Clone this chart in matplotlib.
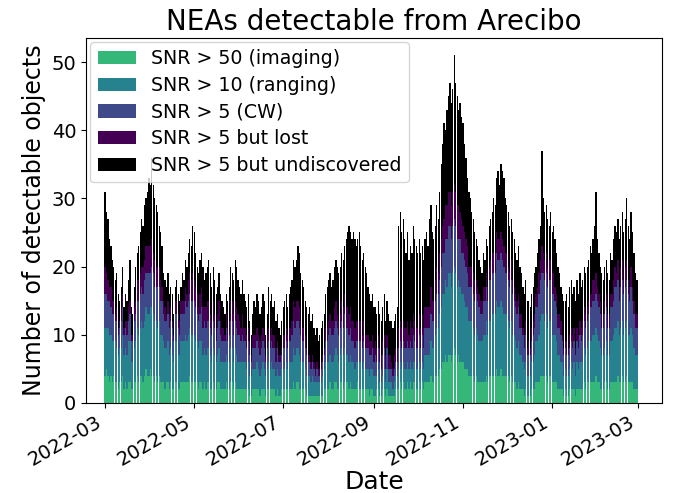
import numpy as np
import pandas as pd
import matplotlib
matplotlib.use("Agg")
import matplotlib.pyplot as plt
import matplotlib.dates as mdates

# daily counts, 2022-03-01 .. 2023-02-28
dates = pd.date_range("2022-03-01", periods=365, freq="D")

imaging = [
    4,5,4,3,4, 3,4,3,3,2, 3,3,4,2,3, 2,3,3,2,2, 3,3,4,3,4, 4,3,4,5,4,
    4,5,4,4,3, 4,3,4,3,3, 3,2,3,3,2, 3,2,2,3,3, 2,2,3,3,3, 3,3,3,4,3,
    3,3,3,3,2, 3,3,2,3,2, 3,3,2,2,3, 2,2,3,3,2, 2,2,2,3,2, 2,3,3,2,3,
    2,2,2,2,2, 2,2,2,2,1, 1,2,2,2,2, 2,1,2,2,2, 1,2,2,2,2, 2,2,1,2,1,
    1,2,2,2,2, 2,2,2,2,3, 2,3,3,2,2, 2,2,2,1,1, 1,1,1,1,1, 1,1,1,1,1,
    2,2,2,2,3, 2,2,3,3,2, 2,3,3,2,3, 3,3,2,3,2, 2,2,2,3,2, 2,2,2,2,2,
    2,1,2,2,1, 1,2,2,1,1, 2,2,1,2,1, 1,1,1,1,2, 2,2,3,2,3, 2,2,3,2,3,
    2,3,3,2,2, 3,2,3,2,3, 3,3,3,4,3, 3,4,4,4,5, 5,6,6,7,6, 7,7,6,7,8,
    7,6,7,6,6, 6,5,5,5,4, 4,4,4,3,4, 3,3,3,3,3, 3,4,3,4,4, 4,4,4,5,4,
    4,5,4,4,4, 4,4,3,4,3, 3,3,2,3,2, 2,2,1,2,1, 1,1,2,2,2, 3,3,3,4,4,
    4,4,4,3,4, 4,3,3,3,3, 2,2,2,2,1, 2,1,1,2,2, 2,2,1,2,2, 2,2,2,3,2,
    3,3,3,3,3, 3,4,3,3,2, 2,2,3,3,2, 2,3,3,3,3, 3,4,3,3,4, 3,3,4,3,3,
    3,3,2,2,2,
]
ranging = [
    7,6,7,7,6, 6,5,6,5,5, 5,5,6,5,5, 5,6,6,4,4, 5,6,7,7,7, 8,8,8,9,9,
    9,9,10,9,9, 8,8,8,7,7, 6,6,5,6,5, 5,5,4,6,6, 5,5,6,6,6, 7,6,7,7,7,
    7,7,6,6,6, 6,6,5,5,5, 5,5,5,4,5, 5,4,4,5,4, 4,4,4,4,4, 4,5,5,4,5,
    5,4,4,4,4, 4,4,3,4,3, 3,3,3,3,4, 3,3,3,4,3, 3,3,4,3,4, 3,3,3,3,3,
    3,3,3,3,4, 3,4,4,4,5, 5,5,5,5,4, 4,4,3,3,3, 3,2,3,2,2, 2,2,2,2,3,
    3,4,4,4,4, 4,4,4,5,5, 4,4,5,5,5, 4,4,4,4,4, 4,3,4,3,4, 4,3,4,3,3,
    3,3,3,3,3, 3,2,3,2,2, 2,3,2,3,2, 2,2,1,2,2, 2,3,3,3,3, 3,3,3,3,3,
    3,3,3,3,3, 3,3,3,3,4, 4,4,4,5,5, 5,6,7,7,8, 9,10,10,11,11, 12,12,11,12,12,
    12,11,11,11,10, 10,10,9,9,8, 8,8,7,7,7, 7,6,6,6,7, 7,8,7,8,8, 9,9,9,10,10,
    10,10,10,9,9, 9,8,8,8,7, 7,6,6,6,5, 5,4,4,4,3, 3,3,4,4,5, 6,6,7,8,9,
    9,8,9,8,8, 8,7,7,7,6, 5,5,4,4,3, 3,3,3,3,4, 3,4,3,4,3, 4,4,4,5,5,
    5,6,6,6,7, 7,7,7,6,6, 5,5,5,6,5, 5,6,6,7,8, 8,8,7,8,8, 7,8,8,7,7,
    8,7,6,5,5,
]
cw = [
    5,5,4,5,4, 4,4,3,4,3, 3,4,4,3,3, 3,3,4,3,3, 4,4,4,5,5, 5,5,6,5,6,
    6,5,6,6,5, 5,6,5,5,5, 4,4,4,4,4, 4,4,3,4,4, 4,3,4,4,4, 5,5,5,5,5,
    5,5,5,4,4, 4,5,4,4,4, 4,4,4,4,4, 4,3,4,4,4, 3,3,3,4,3, 4,4,4,4,4,
    4,4,4,3,4, 3,3,3,3,3, 2,3,3,3,3, 3,3,3,3,3, 2,3,3,3,3, 3,3,2,3,2,
    2,2,3,3,3, 3,3,3,4,4, 4,4,4,4,4, 3,3,3,3,2, 2,2,2,2,1, 2,1,1,2,2,
    2,3,3,4,4, 4,4,4,4,4, 4,4,4,4,5, 4,4,4,4,3, 3,3,3,3,3, 3,3,3,3,3,
    3,3,2,3,2, 3,2,3,3,2, 3,3,2,3,2, 2,2,2,2,2, 2,3,3,3,3, 3,3,3,3,3,
    3,4,3,3,3, 4,3,4,3,4, 4,4,4,4,4, 4,5,5,5,5, 6,6,6,6,7, 7,7,7,7,7,
    7,7,6,7,6, 6,6,6,5,5, 5,5,5,5,5, 5,5,4,4,5, 5,5,5,6,6, 6,6,6,7,7,
    7,7,7,7,6, 6,6,6,6,6, 5,5,5,5,4, 4,4,3,4,3, 3,3,3,4,4, 5,5,6,6,6,
    6,6,6,6,6, 6,6,6,5,5, 4,4,4,3,3, 3,3,3,3,3, 3,3,3,3,3, 4,3,4,4,4,
    4,4,5,5,5, 5,5,5,5,5, 4,4,5,5,4, 4,5,5,5,6, 6,6,5,6,6, 6,6,6,6,5,
    6,5,5,4,4,
]
lost = [
    4,3,3,2,3, 2,2,1,2,1, 1,2,2,1,1, 2,2,2,1,1, 2,2,3,3,3, 3,4,3,4,4,
    4,4,4,3,4, 3,3,3,3,2, 2,2,1,2,2, 2,1,1,2,2, 2,2,2,2,2, 2,2,3,3,3,
    4,3,3,3,2, 3,3,3,2,3, 3,3,2,2,3, 2,2,2,3,2, 2,2,1,2,2, 2,3,3,3,3,
    3,3,2,2,3, 2,2,2,2,2, 1,2,2,2,2, 2,2,2,2,2, 1,2,2,2,2, 2,2,2,1,1,
    1,1,2,2,2, 2,2,2,2,3, 3,3,3,3,2, 2,2,2,1,1, 1,1,1,1,1, 1,1,1,1,1,
    1,2,2,2,2, 2,2,3,3,2, 2,2,3,3,3, 3,3,3,3,3, 3,3,3,3,3, 3,2,3,2,2,
    2,2,2,2,2, 2,2,2,2,2, 2,2,2,2,2, 2,1,1,2,2, 2,3,3,3,3, 3,3,3,2,3,
    3,3,3,3,3, 3,3,3,3,3, 3,3,3,4,3, 3,3,4,3,4, 4,4,5,5,5, 5,5,5,5,5,
    5,5,5,4,5, 4,4,4,4,3, 3,3,3,3,2, 2,2,2,2,2, 2,2,2,2,3, 3,3,3,3,3,
    3,3,3,3,3, 3,2,2,3,2, 2,2,2,2,2, 2,1,2,2,1, 2,1,2,2,2, 2,3,3,3,4,
    3,3,3,3,3, 3,3,3,2,2, 2,2,2,1,1, 1,2,1,2,2, 2,2,1,2,2, 2,2,2,2,2,
    2,2,2,2,3, 3,3,2,2,2, 2,2,2,2,2, 2,2,2,3,3, 2,3,2,3,3, 2,3,3,2,2,
    3,2,2,2,2,
]
undiscovered = [
    11,9,9,7,6, 6,5,5,5,5, 3,3,4,3,4, 3,4,6,4,3, 3,5,4,5,6, 7,6,8,7,8,
    10,9,12,10,9, 9,8,6,7,6, 4,4,4,4,3, 3,4,3,2,3, 3,3,2,4,3, 4,4,4,5,5,
    7,7,5,4,5, 5,5,6,4,5, 5,6,6,5,5, 5,5,4,4,4, 4,3,3,3,4, 5,5,4,5,6,
    6,5,5,5,5, 5,4,4,5,3, 3,3,5,4,5, 5,4,4,5,5, 3,3,6,5,5, 4,5,4,4,4,
    3,4,4,5,5, 4,5,6,6,6, 6,6,8,8,7, 7,6,5,6,6, 7,6,6,5,5, 5,4,5,5,5,
    5,5,6,6,6, 5,6,6,6,7, 7,7,7,7,7, 10,11,13,11,12, 13,13,11,12,13, 11,11,10,10,9,
    7,7,6,6,6, 5,5,5,5,5, 5,6,5,5,6, 5,6,6,5,5, 6,15,16,14,15, 13,11,13,11,11,
    11,13,12,12,11, 11,11,10,10,10, 11,9,13,12,10, 9,8,9,8,9, 11,12,14,11,14, 14,16,15,15,19,
    16,16,14,16,15, 15,13,12,10,11, 10,8,8,7,6, 6,5,5,4,5, 4,5,6,6,6, 6,8,7,8,10,
    8,10,10,10,8, 7,8,7,6,7, 7,6,6,7,7, 6,6,6,6,7, 6,6,5,5,6, 4,5,5,5,14,
    8,7,7,7,5, 7,6,7,7,6, 7,6,5,6,7, 6,7,6,7,7, 6,6,7,7,6, 7,6,6,6,6,
    6,6,7,6,6, 8,12,7,6,5, 6,5,5,5,6, 5,6,5,6,6, 6,6,7,6,7, 7,7,9,8,7,
    8,8,7,6,5,
]

labels = ["SNR > 50 (imaging)", "SNR > 10 (ranging)", "SNR > 5 (CW)",
          "SNR > 5 but lost", "SNR > 5 but undiscovered"]
colors = ["#35b779", "#26828e", "#3e4989", "#440154", "black"]

fig, ax = plt.subplots(figsize=(6.78, 4.93), dpi=100)

bottom = np.zeros(len(dates))
for vals, col, lab in zip([imaging, ranging, cw, lost, undiscovered], colors, labels):
    vals = np.array(vals)
    ax.bar(dates, vals, bottom=bottom, width=0.85, color=col, label=lab)
    bottom += vals

ax.set_xlim(pd.Timestamp("2022-02-16"), pd.Timestamp("2023-03-17"))
ax.xaxis.set_major_locator(mdates.MonthLocator(interval=2))
ax.xaxis.set_major_formatter(mdates.DateFormatter("%Y-%m"))
ax.set_title("NEAs detectable from Arecibo", fontsize=20)
ax.set_xlabel("Date", fontsize=18, labelpad=0)
ax.set_ylabel("Number of detectable objects", fontsize=17)
ax.tick_params(labelsize=14)
ax.legend(loc="upper left", fontsize=13.7, borderaxespad=0.2, labelspacing=0.4)
fig.autofmt_xdate()
fig.subplots_adjust(left=0.127, right=0.976, top=0.923, bottom=0.183)

fig.savefig("out.png", dpi=100)
